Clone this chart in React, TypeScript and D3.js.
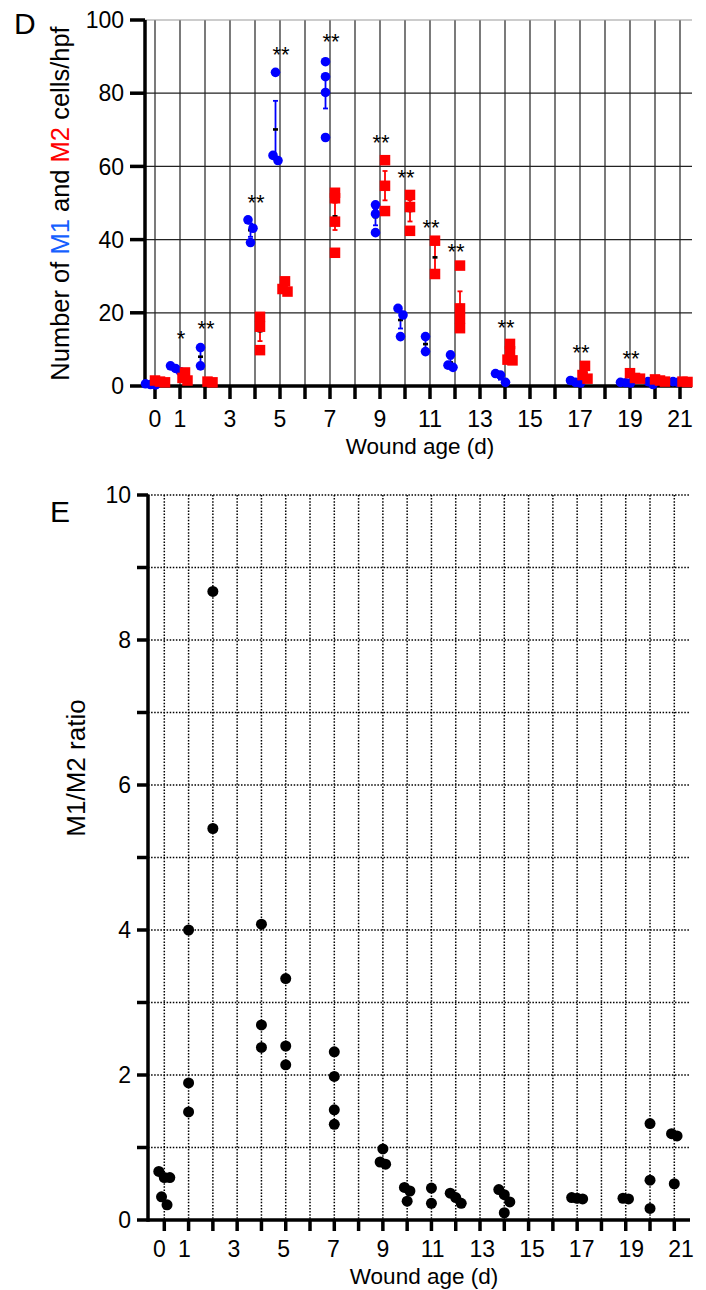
import React from "react";
import * as d3 from "d3";

// ---------- Data ----------
const groupDays = [0, 1, 2, 4, 5, 7, 9, 10, 11, 12, 14, 17, 19, 20, 21];

const m1Values: number[][] = [
  [0.6, 0.4, 0.3],
  [5.5, 4.8, 3.9],
  [10.5, 5.5],
  [45.4, 43.1, 39.2],
  [85.7, 63.0, 61.6],
  [88.6, 84.5, 80.2, 67.9],
  [49.5, 47.0, 41.9],
  [21.2, 19.4, 13.5],
  [13.5, 9.4],
  [8.5, 5.7, 5.1],
  [3.4, 3.0, 1.0],
  [1.5, 0.8, 1.0],
  [0.8, 1.0, 0.9],
  [1.2, 0.4],
  [1.2, 1.0],
];

const m2Values: number[][] = [
  [1.2, 1.5, 1.0],
  [3.7, 2.2, 1.5],
  [1.2, 1.0],
  [18.9, 16.2, 9.8],
  [28.6, 26.5, 25.8],
  [52.8, 51.3, 44.9, 36.4],
  [61.7, 54.7, 47.8],
  [52.2, 48.9, 42.4],
  [39.7, 30.6],
  [32.9, 21.2, 18.5, 15.8],
  [11.5, 9.5, 7.2, 7.0],
  [5.5, 3.0, 2.0],
  [3.5, 2.0, 2.2],
  [1.5, 1.8, 1.2],
  [1.2, 1.1],
];

const sigDays = [1, 2, 4, 5, 7, 9, 10, 11, 12, 14, 17, 19];
const sigLabels = ["*", "**", "**", "**", "**", "**", "**", "**", "**", "**", "**", "**"];
const sigLevels = [14.2, 16.9, 51.4, 91.8, 95.4, 67.8, 58.3, 44.5, 38.1, 17.3, 10.5, 8.7];

const ratioValues: number[][] = [
  [0.67, 0.585, 0.585, 0.32, 0.21],
  [4.0, 1.89, 1.49],
  [8.67, 5.4],
  [4.08, 2.69, 2.38],
  [3.33, 2.4, 2.14],
  [2.32, 1.98, 1.52, 1.32],
  [0.98, 0.8, 0.77],
  [0.45, 0.4, 0.26],
  [0.44, 0.23],
  [0.37, 0.31, 0.23],
  [0.42, 0.35, 0.25, 0.1],
  [0.31, 0.29, 0.3],
  [0.3, 0.29],
  [1.33, 0.55, 0.16],
  [1.19, 1.16, 0.5],
];

const xTickDays = d3.range(0, 22);
const xLabelDays = [0, 1, 3, 5, 7, 9, 11, 13, 15, 17, 19, 21];
const yTicksD = [0, 20, 40, 60, 80, 100];
const yGridD = [20, 40, 60, 80, 100];
const yTicksE = d3.range(0, 11);
const yLabelsE = [0, 2, 4, 6, 8, 10];
const yGridE = d3.range(1, 11);

// ---------- Helpers ----------
const FONT = "'Liberation Sans', Arial, Helvetica, sans-serif";
const BLUE = "#0000ff";
const RED = "#ff0000";

function swarm(values: number[], y: (v: number) => number, minDist: number, step: number) {
  const items = values.map((v, i) => ({ v, i, py: y(v) })).sort((a, b) => a.py - b.py);
  const offsets = new Array(values.length).fill(0);
  let cluster = [items[0]];
  const flush = () => {
    const k = cluster.length;
    cluster.forEach((it, j) => (offsets[it.i] = (j - (k - 1) / 2) * step));
  };
  for (let j = 1; j < items.length; j++) {
    if (items[j].py - items[j - 1].py < minDist) cluster.push(items[j]);
    else {
      flush();
      cluster = [items[j]];
    }
  }
  flush();
  return offsets;
}

function stats(vals: number[]) {
  const m = d3.mean(vals) as number;
  const sd = vals.length > 1 ? (d3.deviation(vals) as number) : 0;
  return { mean: m, sem: sd / Math.sqrt(vals.length) };
}

export default function App() {
  // Panel D scales
  const xD = d3.scaleLinear().domain([0, 21]).range([155, 680]);
  const yD = d3.scaleLinear().domain([0, 100]).range([386, 20]);
  const dLeft = 145;
  const dRight = 692;

  // Panel E scales
  const xE = d3.scaleLinear().domain([0, 21]).range([164.3, 674.3]);
  const xELab = d3.scaleLinear().domain([0, 21]).range([159.5, 681]);
  const yE = d3.scaleLinear().domain([0, 10]).range([1220, 495]);
  const eLeft = 148;
  const eRight = 690;

  const blueOff = -4.5;
  const redOff = 5;
  const rBlue = 4.8;
  const sqRed = 10.5;
  const rBlack = 5.5;

  const renderSeries = (vals: number[][], color: string, off: number, kind: "circle" | "square") =>
    vals.map((g, gi) => {
      const cx = xD(groupDays[gi]) + off;
      const { mean, sem } = stats(g);
      const offs = swarm(g, yD, kind === "circle" ? 2 * rBlue * 0.9 : sqRed * 0.5, 5);
      const y1 = yD(mean + sem);
      const y2 = yD(mean - sem);
      return (
        <g key={color + gi}>
          <line x1={cx} x2={cx} y1={y1} y2={y2} stroke={color} strokeWidth={1.8} />
          <line x1={cx - 2.5} x2={cx + 2.5} y1={y1} y2={y1} stroke={color} strokeWidth={1.8} />
          <line x1={cx - 2.5} x2={cx + 2.5} y1={y2} y2={y2} stroke={color} strokeWidth={1.8} />
          <rect x={cx - 2.5} y={yD(mean) - 1.3} width={5} height={2.6} fill="#000" />
          {g.map((v, i) =>
            kind === "circle" ? (
              <circle key={i} cx={cx + offs[i]} cy={yD(v)} r={rBlue} fill={color} />
            ) : (
              <rect
                key={i}
                x={cx + offs[i] - sqRed / 2}
                y={yD(v) - sqRed / 2}
                width={sqRed}
                height={sqRed}
                fill={color}
              />
            )
          )}
        </g>
      );
    });

  return (
    <svg
      width={706}
      height={1290}
      viewBox="0 0 706 1290"
      style={{ position: "absolute", left: 0, top: 0, display: "block", background: "#fff" }}
      fontFamily={FONT}
    >
      <rect x={0} y={0} width={706} height={1290} fill="#fff" />

      {/* ================= Panel D ================= */}
      <text x={14} y={34} fontSize={30} fill="#000">D</text>

      {/* grid */}
      {xTickDays.map((d) => (
        <line key={"dvg" + d} x1={xD(d)} x2={xD(d)} y1={yD(100)} y2={yD(0)} stroke="#222" strokeWidth={1.2} />
      ))}
      {yGridD.map((v) => (
        <line key={"dhg" + v} x1={dLeft} x2={dRight} y1={yD(v)} y2={yD(v)} stroke={v === 100 ? "#999" : "#222"} strokeWidth={1.2} />
      ))}

      {/* axes */}
      <line x1={dLeft} x2={dRight} y1={yD(0)} y2={yD(0)} stroke="#000" strokeWidth={3.5} />
      <line x1={dLeft} x2={dLeft} y1={yD(0) + 1.75} y2={yD(100)} stroke="#000" strokeWidth={3.5} />
      {yTicksD.map((v) => (
        <g key={"dyt" + v}>
          <line x1={dLeft - 15} x2={dLeft} y1={yD(v)} y2={yD(v)} stroke="#000" strokeWidth={3.5} />
          <text x={dLeft - 21} y={yD(v)} dy="0.36em" textAnchor="end" fontSize={23} fill="#000">
            {v}
          </text>
        </g>
      ))}
      {xTickDays.map((d) => (
        <line key={"dxt" + d} x1={xD(d)} x2={xD(d)} y1={yD(0)} y2={yD(0) + 13} stroke="#000" strokeWidth={3.5} />
      ))}
      {xLabelDays.map((d) => (
        <text key={"dxl" + d} x={xD(d)} y={427} textAnchor="middle" fontSize={23} fill="#000">
          {d}
        </text>
      ))}
      <text x={420} y={454} textAnchor="middle" fontSize={22.5} fill="#000">
        Wound age (d)
      </text>
      <text transform="translate(69,203.5) rotate(-90)" textAnchor="middle" fontSize={25.5} fill="#000">
        <tspan>Number of </tspan>
        <tspan fill="#1560ff">M1</tspan>
        <tspan> and </tspan>
        <tspan fill={RED}>M2</tspan>
        <tspan> cells/hpf</tspan>
      </text>

      {/* data */}
      {renderSeries(m1Values, BLUE, blueOff, "circle")}
      {renderSeries(m2Values, RED, redOff, "square")}

      {/* significance */}
      {sigDays.map((d, i) => (
        <text
          key={"sig" + d}
          x={xD(d) + 1}
          y={yD(sigLevels[i]) + 12}
          textAnchor="middle"
          fontSize={22}
          fill="#000"
        >
          {sigLabels[i]}
        </text>
      ))}

      {/* ================= Panel E ================= */}
      <text x={50} y={522} fontSize={30} fill="#000">E</text>

      {xTickDays.map((d) => (
        <line
          key={"evg" + d}
          x1={xE(d)}
          x2={xE(d)}
          y1={yE(10)}
          y2={yE(0)}
          stroke="#000"
          strokeWidth={1.5}
          strokeDasharray="1.5 1.6"
        />
      ))}
      {yGridE.map((v) => (
        <line
          key={"ehg" + v}
          x1={eLeft}
          x2={eRight}
          y1={yE(v)}
          y2={yE(v)}
          stroke="#000"
          strokeWidth={1.5}
          strokeDasharray="1.5 1.6"
        />
      ))}

      <line x1={eLeft} x2={eRight} y1={yE(0)} y2={yE(0)} stroke="#000" strokeWidth={3.5} />
      <line x1={eLeft} x2={eLeft} y1={yE(0) + 1.75} y2={yE(10)} stroke="#000" strokeWidth={3.5} />
      {yTicksE.map((v) => (
        <line key={"eyt" + v} x1={eLeft - 11} x2={eLeft} y1={yE(v)} y2={yE(v)} stroke="#000" strokeWidth={3.5} />
      ))}
      {yLabelsE.map((v) => (
        <text key={"eyl" + v} x={eLeft - 17} y={yE(v)} dy="0.36em" textAnchor="end" fontSize={23} fill="#000">
          {v}
        </text>
      ))}
      {xTickDays.map((d) => (
        <line key={"ext" + d} x1={xE(d)} x2={xE(d)} y1={yE(0)} y2={yE(0) + 11} stroke="#000" strokeWidth={3.5} />
      ))}
      {xLabelDays.map((d) => (
        <text key={"exl" + d} x={xELab(d)} y={1257} textAnchor="middle" fontSize={23} fill="#000">
          {d}
        </text>
      ))}
      <text x={424} y={1284} textAnchor="middle" fontSize={22.5} fill="#000">
        Wound age (d)
      </text>
      <text transform="translate(85,768) rotate(-90)" textAnchor="middle" fontSize={26} fill="#000">
        M1/M2 ratio
      </text>

      {ratioValues.map((g, gi) => {
        const cx = xE(groupDays[gi]);
        const offs = swarm(g, yE, 2 * rBlack * 0.9, 5.5);
        return (
          <g key={"rat" + gi}>
            {g.map((v, i) => (
              <circle key={i} cx={cx + offs[i]} cy={yE(v)} r={rBlack} fill="#000" />
            ))}
          </g>
        );
      })}
    </svg>
  );
}
